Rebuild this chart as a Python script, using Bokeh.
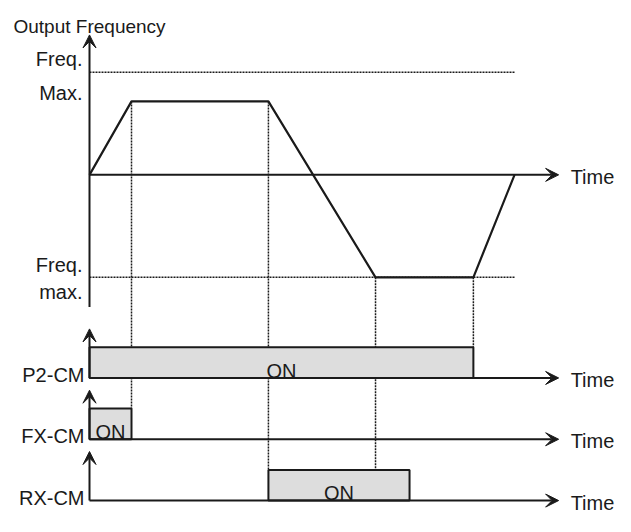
from bokeh.plotting import figure
from bokeh.models import Range1d, Arrow, VeeHead
from bokeh.core.properties import value
from bokeh.embed import file_html
from bokeh.resources import INLINE

# ---------------- data ----------------
event_times = [0.0, 1.0, 4.26, 6.81, 9.14, 10.12]      # s
output_freq = [0.0, 43.0, 43.0, -60.0, -60.0, 0.0]     # Hz
freq_max = 60.0                                          # Hz
signal_names = ["P2-CM", "FX-CM", "RX-CM"]
signal_on_start = [0.0, 0.0, 4.26]                       # s
signal_on_end = [9.14, 1.0, 7.62]                        # s
title_text = "Output Frequency"
max_label_top = ["Freq.", "Max."]
max_label_bottom = ["Freq.", "max."]
time_label = "Time"
on_label = "ON"

# ---------------- layout ----------------
W, H = 615, 516
SY = 0.958                       # vertical fit factor
PX_T, X0 = 42.0, 89.0            # px per second, canvas x of t=0
PX_F, YF0 = 107.0 * SY / 60.0, 182.0 * SY   # px per Hz, canvas y of 0 Hz
PX_S = 32.0 * SY                 # px per signal level
Y_SIG = [394.0 * SY, 458.0 * SY, 522.0 * SY]  # canvas y of each signal's 0 level
T_ARROW = 11.17                  # time axis arrow tip (s)
F_AXIS = (-77.4, 81.9)           # frequency axis extent (Hz)
S_AXIS = 1.6                     # signal axis arrow top (level)
FONT = "Liberation Sans"
FS = "20px"
INK = "#1a1a1a"
FILL = "#dddddd"


def y_range(py0, px_per):
    end = py0 / px_per
    return Range1d(start=end - H / px_per, end=end)


x_start = -X0 / PX_T
x_range = Range1d(start=x_start, end=x_start + W / PX_T)
f_range = y_range(YF0, PX_F)
s_ranges = {n: y_range(y, PX_S) for n, y in zip(signal_names, Y_SIG)}


def conv(v, src, dst):
    frac = (v - src.start) / (src.end - src.start)
    return dst.start + frac * (dst.end - dst.start)


p = figure(width=W, height=H, x_range=x_range, y_range=f_range,
           output_backend="svg", toolbar_location=None,
           x_axis_type=None, y_axis_type=None, min_border=0,
           outline_line_color=None, background_fill_color="white",
           border_fill_color="white")
p.grid.visible = False
p.extra_y_ranges = s_ranges

dot = dict(line_color=INK, line_width=1.5, line_dash="2 1")

# dotted max lines
p.segment(x0=[event_times[0]] * 2, x1=[event_times[-1]] * 2,
          y0=[freq_max, -freq_max], y1=[freq_max, -freq_max], **dot)

# dotted vertical guides: (event index, target signal)
guides = [(1, "FX-CM"), (2, "RX-CM"), (3, "RX-CM"), (4, "P2-CM")]
for idx, sig in guides:
    rng = s_ranges[sig]
    top = conv(output_freq[idx], f_range, rng)
    p.segment(x0=[event_times[idx]], x1=[event_times[idx]],
              y0=[top], y1=[1.0], y_range_name=sig, **dot)

# output frequency curve
p.line(event_times, output_freq, line_color=INK, line_width=2.2)

head = dict(size=13, fill_color=INK, line_color=INK, line_width=1)
# frequency axes
p.add_layout(Arrow(end=VeeHead(**head), x_start=0, y_start=0, x_end=T_ARROW, y_end=0,
                   line_color=INK, line_width=2))
p.add_layout(Arrow(end=VeeHead(**head), x_start=0, y_start=F_AXIS[0], x_end=0, y_end=F_AXIS[1],
                   line_color=INK, line_width=2))

txt = dict(text_font=value(FONT), text_font_size=FS, text_color=INK,
           text_baseline="alphabetic")
time_txt = dict(text_font=value(FONT), text_font_size=FS, text_color=INK,
                text_baseline="middle", text_align="left", x_offset=12, y_offset=2)

# signals
for name, t0, t1 in zip(signal_names, signal_on_start, signal_on_end):
    p.quad(left=[t0], right=[t1], bottom=[0], top=[1], y_range_name=name,
           fill_color=FILL, line_color=INK, line_width=2)
    p.add_layout(Arrow(end=VeeHead(**head), x_start=0, y_start=0, x_end=T_ARROW, y_end=0,
                       y_range_name=name, line_color=INK, line_width=2))
    p.add_layout(Arrow(end=VeeHead(**head), x_start=0, y_start=0, x_end=0, y_end=S_AXIS,
                       y_range_name=name, line_color=INK, line_width=2))
    p.text(x=[(t0 + t1) / 2], y=[0.5], text=[on_label], y_range_name=name,
           text_align="center", y_offset=8, **txt)
    p.text(x=[0], y=[0], text=[name], y_range_name=name,
           text_align="right", x_offset=-5, y_offset=-3, **txt)
    p.text(x=[T_ARROW], y=[0], text=[time_label], y_range_name=name, **time_txt)

# frequency panel labels
p.text(x=[T_ARROW], y=[0], text=[time_label], **time_txt)
p.text(x=[0], y=[F_AXIS[1]], text=[title_text], text_font=value(FONT),
       text_font_size="19px", text_color=INK, text_align="left", text_baseline="alphabetic",
       x_offset=-76, y_offset=-8)
p.text(x=[0, 0], y=[freq_max, freq_max], text=max_label_top, text_align="right",
       x_offset=-7, y_offset=[-13, 21], **txt)
p.text(x=[0, 0], y=[-freq_max, -freq_max], text=max_label_bottom, text_align="right",
       x_offset=-7, y_offset=[-12, 15], **txt)

open("out.html", "w").write(file_html(p, INLINE))
